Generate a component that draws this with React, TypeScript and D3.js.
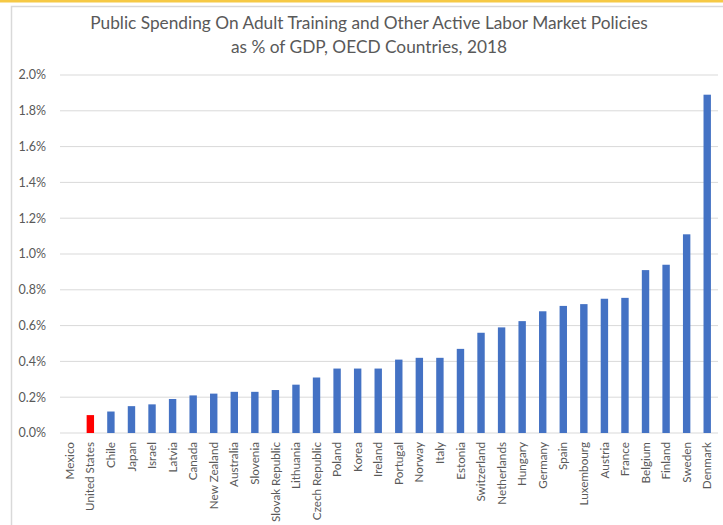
import React from "react";
import * as d3 from "d3";

const countries = ["Mexico","United States","Chile","Japan","Israel","Latvia","Canada","New Zealand","Australia","Slovenia","Slovak Republic","Lithuania","Czech Republic","Poland","Korea","Ireland","Portugal","Norway","Italy","Estonia","Switzerland","Netherlands","Hungary","Germany","Spain","Luxembourg","Austria","France","Belgium","Finland","Sweden","Denmark"];
const values = [0.0,0.10,0.12,0.15,0.16,0.19,0.21,0.22,0.23,0.23,0.24,0.27,0.31,0.36,0.36,0.36,0.41,0.42,0.42,0.47,0.56,0.59,0.625,0.68,0.71,0.72,0.75,0.755,0.91,0.94,1.11,1.89];
const yTicks = [0,0.2,0.4,0.6,0.8,1.0,1.2,1.4,1.6,1.8,2.0];
const titleLines = ["Public Spending On Adult Training and Other Active Labor Market Policies","as % of GDP, OECD Countries, 2018"];
const highlight = "United States";

export default function App() {
  const W = 723, H = 525;
  const x = d3.scaleBand<string>().domain(countries).range([59.5, 717.5]).paddingInner(0.64).paddingOuter(0.32);
  const y = d3.scaleLinear().domain([0, 2]).range([433, 75]);
  const font = "Lato, 'Open Sans', sans-serif";
  return (
    <svg width={W} height={H} style={{ position: "absolute", left: 0, top: 0, background: "#fff" }}>
      <rect x={0} y={0} width={W} height={2.5} fill="#f6c945" />
      <rect x={11.5} y={6.5} width={W + 10} height={H + 10} fill="#fff" stroke="#d9d9d9" strokeWidth={1.5} />
      {titleLines.map((t, i) => (
        <text key={i} x={369} y={28.5 + i * 24} textAnchor="middle" fontFamily={font} fontSize={17.3} fill="#595959">{t}</text>
      ))}
      {yTicks.map((t) => (
        <g key={t}>
          <line x1={60} x2={718} y1={y(t)} y2={y(t)} stroke="#d9d9d9" strokeWidth={1} />
          <text x={46} y={y(t)} dy="0.35em" textAnchor="end" fontFamily={font} fontSize={12.5} fill="#595959">{d3.format(".1f")(t) + "%"}</text>
        </g>
      ))}
      {countries.map((c, i) => (
        <rect key={c} x={x(c)} y={y(values[i])} width={x.bandwidth()} height={y(0) - y(values[i])} fill={c === highlight ? "#ff0000" : "#4472c4"} />
      ))}
      {countries.map((c) => {
        const cx = (x(c) as number) + x.bandwidth() / 2;
        return (
          <text key={c} transform={`translate(${cx},442) rotate(-90)`} textAnchor="end" dy="0.35em" fontFamily={font} fontSize={11.7} fill="#595959">{c}</text>
        );
      })}
    </svg>
  );
}
